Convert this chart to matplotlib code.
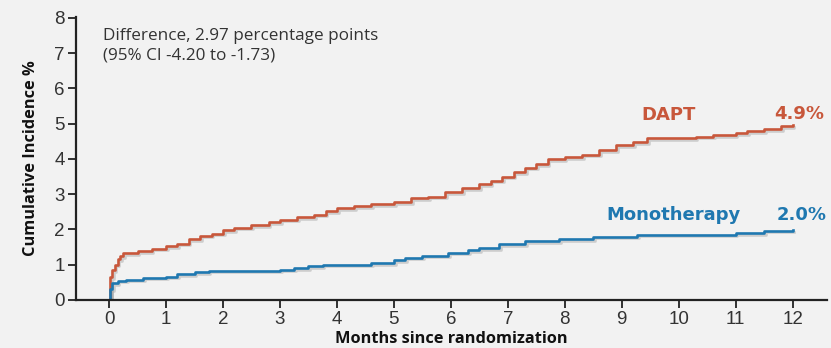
import matplotlib.pyplot as plt
import matplotlib.patheffects as pe

# Kaplan-Meier style cumulative incidence
dapt_t = [0, 0.02, 0.05, 0.1, 0.15, 0.2, 0.25, 0.5, 0.75, 1.0, 1.2, 1.4, 1.6, 1.8,
          2.0, 2.2, 2.5, 2.8, 3.0, 3.3, 3.6, 3.8, 4.0, 4.3, 4.6, 5.0, 5.3, 5.6,
          5.9, 6.2, 6.5, 6.7, 6.9, 7.1, 7.3, 7.5, 7.7, 8.0, 8.3, 8.6, 8.9, 9.2,
          9.45, 10.3, 10.6, 11.0, 11.2, 11.5, 11.8, 12.0]
dapt_v = [0, 0.65, 0.85, 1.0, 1.15, 1.25, 1.32, 1.38, 1.45, 1.52, 1.6, 1.72, 1.82, 1.88,
          1.98, 2.05, 2.12, 2.2, 2.28, 2.35, 2.42, 2.52, 2.6, 2.66, 2.72, 2.78, 2.88, 2.93,
          3.05, 3.16, 3.28, 3.38, 3.5, 3.62, 3.75, 3.85, 4.0, 4.05, 4.12, 4.25, 4.38, 4.48,
          4.58, 4.63, 4.68, 4.72, 4.78, 4.85, 4.92, 4.95]

mono_t = [0, 0.02, 0.05, 0.15, 0.3, 0.6, 1.0, 1.2, 1.5, 1.75, 3.0, 3.25, 3.5, 3.75,
          4.6, 5.0, 5.2, 5.5, 5.95, 6.3, 6.5, 6.85, 7.3, 7.9, 8.5, 9.27, 11.0, 11.5, 12.0]
mono_v = [0, 0.3, 0.48, 0.55, 0.58, 0.63, 0.66, 0.74, 0.78, 0.83, 0.86, 0.9, 0.95, 1.0,
          1.05, 1.12, 1.2, 1.26, 1.34, 1.42, 1.47, 1.58, 1.66, 1.73, 1.79, 1.85, 1.9, 1.96, 1.97]

xticks = list(range(0, 13))
yticks = list(range(0, 9))

red = "#c8573b"
blue = "#1f78b0"
bg = "#f2f2f2"

fig = plt.figure(figsize=(8.31, 3.48), dpi=100, facecolor=bg)
ax = fig.add_axes([0.0915, 0.138, 0.9035, 0.813], facecolor=bg)

shadow = [pe.SimpleLineShadow(offset=(1.2, -1.2), alpha=0.15), pe.Normal()]
ax.plot(dapt_t, dapt_v, drawstyle="steps-post", color=red, lw=1.9, path_effects=shadow)
ax.plot(mono_t, mono_v, drawstyle="steps-post", color=blue, lw=1.9, path_effects=shadow)

ax.set_xlim(-0.58, 12.6)
ax.set_ylim(0, 8.02)
ax.set_xticks(xticks)
ax.set_yticks(yticks)
ax.tick_params(labelsize=13.5, labelcolor="#333333", color="#222222", width=1.3,
               length=6, pad=2)
for lab in ax.get_xticklabels() + ax.get_yticklabels():
    lab.set_family("Liberation Sans")
for s in ["top", "right"]:
    ax.spines[s].set_visible(False)
for s in ["left", "bottom"]:
    ax.spines[s].set_color("#222222")
    ax.spines[s].set_linewidth(1.6)

ax.set_xlabel("Months since randomization", fontsize=11.8, fontweight="bold",
              family="Open Sans", color="#111111", labelpad=2)
ax.set_ylabel("Cumulative Incidence %", fontsize=11.8, fontweight="bold",
              family="Open Sans", color="#111111", labelpad=11)

ax.text(-0.1, 7.2, "Difference, 2.97 percentage points\n(95% CI -4.20 to -1.73)",
        fontsize=12.3, family="Open Sans", color="#333333", va="center", linespacing=1.25)

lbl = dict(fontsize=13, fontweight="bold", family="DejaVu Sans", ha="center", va="center")
ax.text(9.82, 5.23, "DAPT", color=red, **lbl)
ax.text(12.12, 5.28, "4.9%", color=red, **lbl)
ax.text(9.9, 2.4, "Monotherapy", color=blue, **lbl)
ax.text(12.15, 2.4, "2.0%", color=blue, **lbl)

fig.savefig("out.png", dpi=100, facecolor=bg)
